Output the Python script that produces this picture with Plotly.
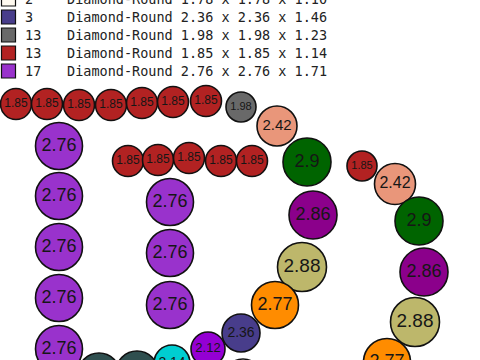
import plotly.graph_objects as go

# ---- legend data ----
leg_counts = ["2", "3", "13", "13", "17"]
leg_desc = ["Diamond-Round 1.78 x 1.78 x 1.10",
            "Diamond-Round 2.36 x 2.36 x 1.46",
            "Diamond-Round 1.98 x 1.98 x 1.23",
            "Diamond-Round 1.85 x 1.85 x 1.14",
            "Diamond-Round 2.76 x 2.76 x 1.71"]
leg_colors = ["#FFFAF0", "#483D8B", "#696969", "#B22222", "#9932CC"]
leg_y = [-1, 17, 35, 53, 71]

# ---- stones ----
stone_labels = (["1.85"] * 7 + ["1.98", "2.42", "2.9"] +
                ["1.85"] * 5 +
                ["1.85", "2.42", "2.9", "2.86", "2.88", "2.77"] +
                ["2.86", "2.88", "2.77", "2.36", "2.12", "2.14", "2.5", "2.5", "1.78"] +
                ["2.76"] * 5 + ["2.76"] * 3)
stone_x = ([16, 47, 79, 111, 142, 173, 206, 241, 277, 307] +
           [128, 158, 189, 221, 252] +
           [362, 395, 419, 424, 415, 387] +
           [313, 302, 275, 241, 208, 172, 137, 99, 243] +
           [59, 59, 59, 59, 59] + [170, 170, 170])
stone_y = ([104, 104, 105, 105, 103, 102, 101, 107, 126, 162] +
           [161, 160, 158, 161, 161] +
           [166, 184, 221, 272, 322, 362] +
           [215, 267, 305, 333, 349, 363, 372, 374, 378] +
           [146, 196, 247, 298, 349] + [202, 253, 305])
stone_d = ([31] * 7 + [30, 40, 48] +
           [31] * 5 +
           [30, 41, 48, 48, 49, 47] +
           [48, 49, 47, 38, 34, 36, 42, 42, 38] +
           [47] * 5 + [47] * 3)
stone_colors = (["#B22222"] * 7 + ["#696969", "#E9967A", "#006400"] +
                ["#B22222"] * 5 +
                ["#B22222", "#E9967A", "#006400", "#8B008B", "#BDB76B", "#FF8C00"] +
                ["#8B008B", "#BDB76B", "#FF8C00", "#483D8B", "#9400D3", "#00CED1",
                 "#2F4F4F", "#2F4F4F", "#FFFAF0"] +
                ["#9932CC"] * 5 + ["#9932CC"] * 3)

fig = go.Figure()

# stones as data-referenced circle shapes (sized in axis units)
for x, y, d, c in zip(stone_x, stone_y, stone_d, stone_colors):
    r = d / 2
    fig.add_shape(type="circle", xref="x", yref="y",
                  x0=x - r, x1=x + r, y0=y - r, y1=y + r,
                  fillcolor=c, line=dict(color="#111111", width=1.6),
                  layer="below")

# stone labels
fig.add_trace(go.Scatter(
    x=stone_x, y=stone_y, mode="text",
    text=stone_labels, textposition="middle center",
    textfont=dict(family="Liberation Sans, Arial, sans-serif",
                  size=[round(0.38 * d) for d in stone_d], color="#161616"),
    hoverinfo="skip", cliponaxis=True))

# legend swatches
for yy, c in zip(leg_y, leg_colors):
    fig.add_shape(type="rect", xref="x", yref="y",
                  x0=1.5, x1=15.5, y0=yy - 7, y1=yy + 7,
                  fillcolor=c, line=dict(color="#111111", width=1.2),
                  layer="above")

for c, dsc, yy in zip(leg_counts, leg_desc, leg_y):
    ya = max(yy, 0)
    shift = ya - yy  # keep anchor inside the axis range
    fig.add_annotation(x=23, y=ya, yshift=shift, text=c, showarrow=False,
                       xanchor="left", yanchor="middle",
                       font=dict(family="DejaVu Sans Mono", size=13.5, color="#222222"))
    fig.add_annotation(x=65, y=ya, yshift=shift, text=dsc, showarrow=False,
                       xanchor="left", yanchor="middle",
                       font=dict(family="DejaVu Sans Mono", size=13.5, color="#222222"))

fig.update_layout(
    width=480, height=360, margin=dict(l=0, r=0, t=0, b=0),
    paper_bgcolor="white", plot_bgcolor="white", showlegend=False,
    xaxis=dict(range=[0, 480], visible=False, fixedrange=True),
    yaxis=dict(range=[360, 0], visible=False, fixedrange=True),
)

fig.write_html("out.html", config={"displayModeBar": False})
